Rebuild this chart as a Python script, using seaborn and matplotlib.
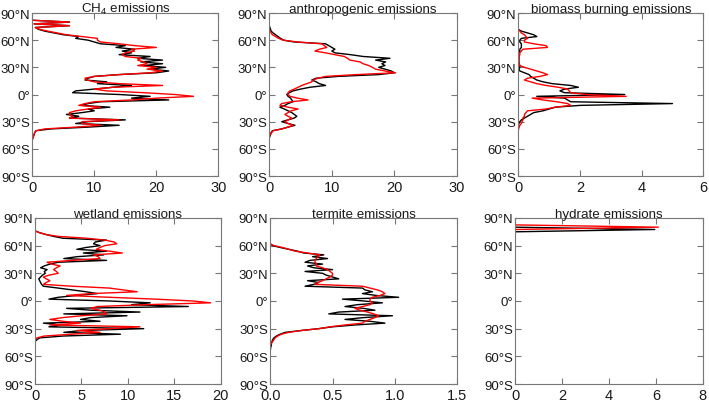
import matplotlib
matplotlib.use("Agg")
import matplotlib.pyplot as plt
import seaborn as sns
import numpy as np

# latitude grids (deg) and zonal emission profiles, black = run 1, red = run 2
lat_ch4 = np.arange(82, -51, -2)
ch4_black = [0, 6, 0.3, 6, 0.5, 1.0, 2.0, 3.5, 5.0, 7.5, 7.0, 9.0, 10.0, 11, 15, 13.5, 16.5, 14.5,
             16, 14, 19, 17, 21, 17.5, 21, 18, 21.5, 19, 22, 20, 14, 10, 9, 8.5, 12, 10.5, 16, 13,
             10, 7, 6.5, 14, 19, 16, 22, 11, 9, 8, 12.5, 9, 10, 8, 5.5, 7.5, 6, 15, 9, 7, 14, 9,
             3, 0.6, 0.4, 0.3, 0.2, 0.1, 0]
ch4_red = [0, 6, 0.3, 6, 0.5, 1.2, 2.5, 4.0, 5.5, 8.0, 10.5, 10.5, 11.0, 14.0, 16.5, 20, 16, 16.5,
           15, 14.5, 15, 17.5, 17, 18, 18.5, 17, 20, 18.5, 21, 19, 14, 10, 8.5, 8.8, 10, 14, 21, 13,
           10, 12, 18, 23, 26, 20, 16, 10, 8.5, 7.5, 11, 9, 7, 6, 6, 6.5, 6, 14, 8, 8, 11, 7,
           2, 0.6, 0.4, 0.3, 0.2, 0.1, 0]

lat_anth = np.arange(76, -49, -2)
anth_black = [0, 0.1, 0.2, 0.3, 0.6, 1.0, 1.4, 1.8, 2.3, 4.0, 9.0, 9.5, 10, 10.5, 10, 10.5, 13, 15,
              19.3, 17, 18.6, 18, 18.5, 17.5, 18.5, 19.5, 20, 17.5, 11, 7.5, 6.8, 7.5, 8, 9, 6.5,
              5, 3.8, 3.2, 2.8, 3, 3.4, 3.6, 3.8, 3, 2.5, 1.7, 2.4, 3.0, 3.6, 4.0, 4.4, 4.0, 3, 2,
              3, 4.1, 3, 2, 0.5, 0.3, 0.2, 0.1, 0]
anth_red = [0, 0, 0, 0.1, 0.3, 0.5, 1.0, 1.5, 2.2, 4.5, 8.4, 8.8, 9.2, 8, 7.3, 9, 10.5, 12, 12.5,
            12.9, 14.5, 15, 15.9, 16.5, 17, 18.5, 20.2, 14, 9, 7.8, 7, 6.8, 6, 5.2, 4.6, 4, 3.3,
            3, 3, 3.3, 4.5, 6.2, 3.5, 2, 1.7, 3, 4.6, 3.5, 3, 2.5, 3, 3.6, 3, 2.5, 3, 3.8, 3, 2,
            0.6, 0.4, 0.2, 0, 0]

lat_bb = np.arange(72, -41, -2)
bb_black = [0, 0.1, 0.3, 0.5, 0.6, 0.1, 0.05, 0.05, 0.1, 0.1, 0.1, 0.05, 0.05, 0.02, 0.02, 0.02,
            0.02, 0.02, 0.02, 0.03, 0.05, 0.05, 0.02, 0.05, 0.2, 0.35, 0.4, 0.5, 0.6, 0.8, 1.1,
            1.7, 1.95, 1.5, 1.35, 1.5, 3.45, 0.6, 1.5, 1.6, 1.7, 5.0, 2.0, 1.2, 1.0, 0.8, 0.5,
            0.4, 0.3, 0.2, 0.1, 0.05, 0.02, 0, 0, 0, 0]
bb_red = [0, 0.05, 0.1, 0.2, 0.25, 0.3, 0.2, 0.2, 0.5, 0.9, 0.95, 0.15, 0.1, 0.05, 0.05, 0.03,
          0.02, 0.02, 0.02, 0.02, 0.05, 0.2, 0.4, 0.6, 0.8, 0.95, 0.7, 0.3, 0.2, 0.4, 0.6, 0.9,
          1.3, 1.6, 1.65, 1.7, 2.2, 3.5, 0.45, 0.8, 1.25, 1.6, 1.7, 1.2, 0.9, 0.3, 0.25, 0.2,
          0.2, 0.15, 0.15, 0.12, 0.1, 0.05, 0.03, 0.01, 0]

lat_wet = np.arange(76, -45, -2)
wet_black = [0, 0.5, 1.2, 2.0, 3.0, 7.7, 6.5, 6.3, 7, 5.5, 4.5, 7.7, 5.2, 7.4, 4.5, 3.1, 7.7, 2.5,
             1.6, 1.0, 0.6, 1.3, 1.0, 1.1, 0.8, 0.6, 0.4, 0.5, 0.6, 0.7, 0.9, 2.5, 4.0, 5.5, 6.7,
             4.5, 2.5, 1.5, 8, 12.4, 10.4, 16.5, 3.4, 6, 11.3, 3.1, 9.9, 6, 4.9, 7, 0.9, 2.7, 1.5,
             11.7, 5, 3.1, 9.2, 3, 0.5, 0.2, 0]
wet_red = [0, 0.5, 1.2, 2.5, 5.6, 7.5, 8.5, 8.8, 7.5, 7, 6.6, 8, 9.4, 6.3, 6.8, 7, 4, 1.3, 1.8,
           2.7, 2.3, 2.0, 2.3, 2.5, 1.5, 0.9, 1.2, 1.6, 1.2, 0.9, 4, 8, 9.5, 11, 6, 3.4, 8, 13,
           17, 18.9, 12, 6.7, 6, 7, 7.5, 7.7, 5, 3, 1.6, 3, 4.9, 1.6, 11.3, 8, 4.5, 7, 4, 1,
           0.2, 0, 0]

lat_ter = np.arange(62, -57, -2)
ter_black = [0, 0.02, 0.08, 0.15, 0.22, 0.27, 0.43, 0.34, 0.46, 0.32, 0.28, 0.42, 0.3, 0.35, 0.5,
             0.28, 0.42, 0.45, 0.5, 0.55, 0.3, 0.39, 0.35, 0.28, 0.74, 0.76, 0.82, 0.74, 0.85,
             1.03, 0.58, 0.75, 0.9, 0.7, 0.6, 0.75, 0.84, 0.55, 0.47, 0.98, 0.75, 0.6, 0.8, 0.92,
             0.68, 0.5, 0.39, 0.25, 0.12, 0.08, 0.05, 0.03, 0.02, 0.015, 0.01, 0.01, 0.005,
             0.003, 0.001, 0]
ter_red = [0, 0.03, 0.1, 0.15, 0.2, 0.3, 0.4, 0.38, 0.37, 0.36, 0.36, 0.37, 0.37, 0.42, 0.46,
           0.48, 0.5, 0.5, 0.48, 0.45, 0.42, 0.38, 0.36, 0.74, 0.8, 0.86, 0.9, 0.92, 0.88, 0.82,
           0.8, 0.8, 0.82, 0.8, 0.74, 0.68, 0.72, 0.78, 0.83, 0.87, 0.84, 0.8, 0.76, 0.74, 0.6,
           0.48, 0.39, 0.25, 0.15, 0.09, 0.06, 0.04, 0.03, 0.02, 0.01, 0, 0, 0, 0, 0]

lat_hyd = [85, 82.5, 80, 77.5, 75, 72.5]
hyd_black = [0, 0, 0, 5.95, 0, 0]
hyd_red = [0, 0, 6.1, 0, 0, 0]

lat_ticks = [-90, -60, -30, 0, 30, 60, 90]
lat_labels = ["90°S", "60°S", "30°S", "0°", "30°N", "60°N", "90°N"]

panels = [
    ("CH$_4$ emissions", lat_ch4, ch4_black, ch4_red, [0, 10, 20, 30], None),
    ("anthropogenic emissions", lat_anth, anth_black, anth_red, [0, 10, 20, 30], None),
    ("biomass burning emissions", lat_bb, bb_black, bb_red, [0, 2, 4, 6], None),
    ("wetland emissions", lat_wet, wet_black, wet_red, [0, 5, 10, 15, 20], None),
    ("termite emissions", lat_ter, ter_black, ter_red, [0, 0.5, 1.0, 1.5], "%.1f"),
    ("hydrate emissions", lat_hyd, hyd_black, hyd_red, [0, 2, 4, 6, 8], None),
]

# axes boxes in figure fractions (left, bottom, width, height)
boxes = [
    (0.0455, 0.564, 0.2625, 0.4015),
    (0.3798, 0.564, 0.2646, 0.4015),
    (0.7310, 0.564, 0.2610, 0.4015),
    (0.0494, 0.0517, 0.2620, 0.4090),
    (0.3810, 0.0517, 0.2640, 0.4090),
    (0.7264, 0.0517, 0.2650, 0.4090),
]

sns.set_style("ticks")
plt.rcParams["font.family"] = ["Liberation Sans", "DejaVu Sans"]
plt.rcParams["mathtext.fontset"] = "custom"
plt.rcParams["mathtext.rm"] = "Liberation Sans"

fig = plt.figure(figsize=(7.09, 4.06), dpi=100)
for (title, lat, blk, red, xt, fmt), box in zip(panels, boxes):
    ax = fig.add_axes(box)
    sns.lineplot(x=blk, y=lat, sort=False, estimator=None, color="black", lw=1.0, ax=ax)
    sns.lineplot(x=red, y=lat, sort=False, estimator=None, color="red", lw=1.0, ax=ax)
    ax.set_xlim(xt[0], xt[-1])
    ax.set_ylim(-90, 90)
    ax.set_xticks(xt)
    if fmt:
        ax.set_xticklabels([fmt % v for v in xt])
    ax.set_yticks(lat_ticks)
    ax.set_yticklabels(lat_labels)
    ax.tick_params(direction="in", top=True, right=True, length=4, width=0.8,
                   color="#777777", labelcolor="#1a1a1a")
    ax.tick_params(axis="y", labelsize=9.5, pad=1.5)
    ax.tick_params(axis="x", labelsize=10.5, pad=3)
    for s in ax.spines.values():
        s.set_color("#777777")
        s.set_linewidth(0.8)
    ax.set_title(title, fontsize=9.6, pad=1, color="#1a1a1a")
    ax.set_xlabel("")
    ax.set_ylabel("")

fig.savefig("out.png", dpi=100)
